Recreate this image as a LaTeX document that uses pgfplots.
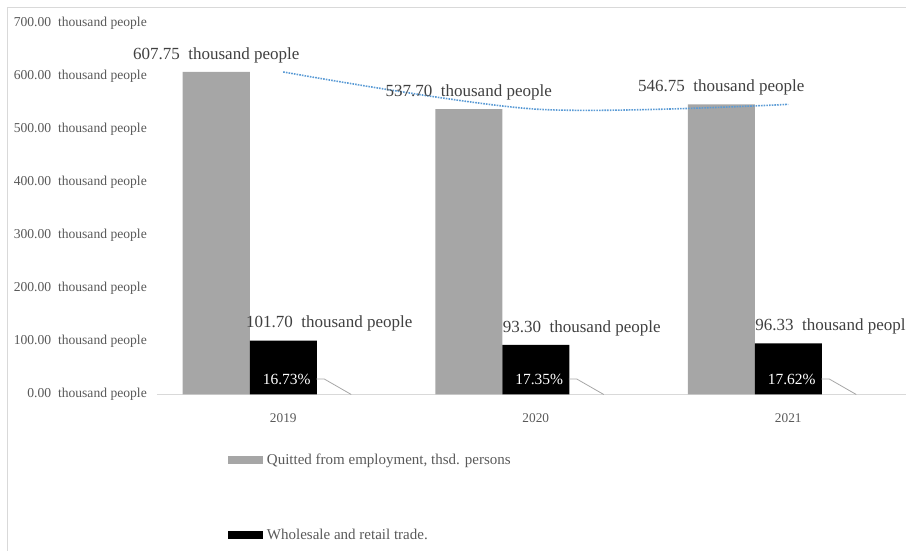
\documentclass[border=0pt]{standalone}
\usepackage{fontspec}
\setmainfont{Liberation Serif}
\usepackage{pgfplots}
\pgfplotsset{compat=1.18}
\definecolor{barGray}{RGB}{166,166,166}
\definecolor{txtGray}{RGB}{89,89,89}
\definecolor{lblGray}{RGB}{64,64,64}
\definecolor{trendBlue}{RGB}{91,155,213}
\definecolor{frameGray}{RGB}{217,217,217}
\definecolor{leadGray}{RGB}{166,166,166}
\begin{document}
\begin{tikzpicture}[x=1pt,y=1pt]
\path[use as bounding box] (0,0) rectangle (906,551);
\draw[frameGray, line width=0.8pt] (7.5,-5) -- (7.5,543.5) -- (915,543.5);
\begin{axis}[
  at={(157pt,156.5pt)}, anchor=south west,
  scale only axis, width=757.5pt, height=371.5pt,
  xmin=-0.5, xmax=2.5, ymin=0, ymax=700,
  ybar, bar width=67pt,
  axis x line*=bottom, axis y line*=left,
  x axis line style={draw=frameGray, line width=0.8pt, -},
  y axis line style={draw=none},
  xtick={0,1,2}, xticklabels={2019,2020,2021},
  ytick={0,100,...,700},
  tick style={draw=none},
  /pgf/number format/assume math mode=true,
  yticklabel={\pgfmathprintnumber[fixed,fixed zerofill,precision=2]{\tick}\ \ thousand people},
  yticklabel style={font=\fontsize{13.6}{15}\selectfont, text=txtGray, anchor=east, inner sep=0pt, xshift=-10pt},
  xticklabel style={font=\fontsize{13.3}{15}\selectfont, text=txtGray, anchor=north, inner sep=0pt, yshift=-15pt},
  enlargelimits=false, clip=false,
  legend style={at={(0.0937,-0.153)}, anchor=north west, draw=none, fill=none,
    inner sep=0pt, outer sep=0pt, font=\fontsize{15}{17}\selectfont, text=txtGray,
    row sep=58pt, nodes={inner ysep=2.5pt, inner xsep=4pt}},
  legend cell align=left,
]
% Quitted from employment
\addplot[fill=barGray, draw=none, bar shift=-67pt,
  legend image code/.code={\fill[barGray] (0pt,-4pt) rectangle (35pt,4pt);},
  nodes near coords={\pgfmathprintnumber[fixed,fixed zerofill,precision=2]{\pgfplotspointmeta}\ \ thousand people},
  every node near coord/.append style={font=\fontsize{17}{19}\selectfont, text=lblGray, anchor=center, yshift=17pt, inner sep=0pt}]
  coordinates {(0,607.75) (1,537.70) (2,546.75)};
\addlegendentry{Quitted from employment, thsd. persons}
% Wholesale and retail trade
\addplot[fill=black, draw=none, bar shift=0pt,
  legend image code/.code={\fill[black] (0pt,-4pt) rectangle (35pt,4pt);},
  nodes near coords={\pgfmathprintnumber[fixed,fixed zerofill,precision=2]{\pgfplotspointmeta}\ \ thousand people},
  every node near coord/.append style={font=\fontsize{17}{19}\selectfont, text=lblGray, anchor=center, xshift=46pt, yshift=17pt, inner sep=0pt}]
  coordinates {(0,101.70) (1,93.30) (2,96.33)};
\addlegendentry{Wholesale and retail trade.}
% share labels (percent)
\addplot[forget plot, draw=none, fill=none, bar shift=3.5pt, point meta=explicit,
  nodes near coords={\pgfmathprintnumber[fixed,fixed zerofill,precision=2]{\pgfplotspointmeta}\%},
  every node near coord/.append style={font=\fontsize{15.5}{17}\selectfont, text=white, anchor=center, yshift=15pt, inner sep=0pt}]
  coordinates {(0,0) [16.73] (1,0) [17.35] (2,0) [17.62]};
% polynomial trend line of the gray series
\addplot[forget plot, smooth, mark=none, trendBlue, line width=1.6pt, dash pattern=on 1.6pt off 1.1pt]
  coordinates {(0,607.75) (1,537.70) (2,546.75)};
% leader lines
\draw[leadGray, line width=0.8pt] (axis cs:0,0) ++(33pt,15.5pt) -- ++(8pt,0pt) -- ++(27pt,-15.5pt);
\draw[leadGray, line width=0.8pt] (axis cs:1,0) ++(33pt,15.5pt) -- ++(8pt,0pt) -- ++(27pt,-15.5pt);
\draw[leadGray, line width=0.8pt] (axis cs:2,0) ++(33pt,15.5pt) -- ++(8pt,0pt) -- ++(27pt,-15.5pt);
\end{axis}
\end{tikzpicture}
\end{document}
